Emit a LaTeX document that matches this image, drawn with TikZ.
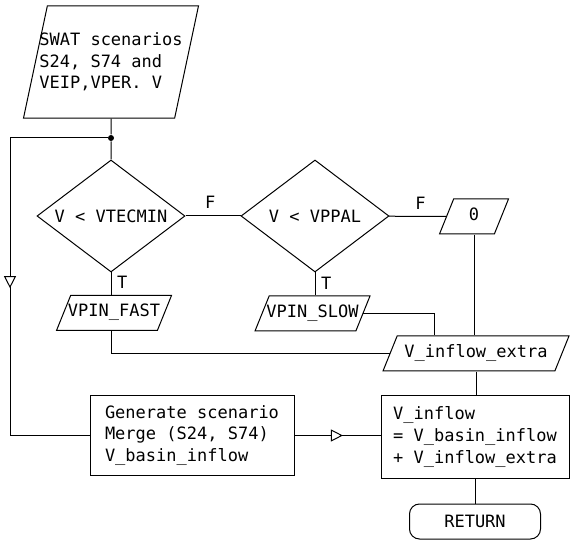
\documentclass[tikz,border=0pt]{standalone}
\usepackage{fontspec}
\setmonofont{DejaVu Sans Mono}
\usepackage{tikz}
\usetikzlibrary{arrows.meta, positioning, shapes.geometric, decorations.markings}

\begin{document}
\begin{tikzpicture}[x=1pt, y=-1pt, line width=1pt,
    box/.style={rectangle, draw, align=left, inner sep=0pt},
    decision/.style={diamond, draw, aspect=1.32, inner sep=0pt, minimum width=148pt, minimum height=112pt},
    data/.style={trapezium, draw, trapezium left angle=68, trapezium right angle=112, trapezium stretches body, text height=12pt, text depth=4pt, inner xsep=-3pt, inner ysep=9.5pt},
    terminal/.style={rectangle, draw, rounded corners=10pt, minimum width=131pt, minimum height=35pt},
    dot/.style={circle, fill, inner sep=0pt, minimum size=6pt},
    midtri/.style={postaction={decorate, decoration={markings, mark=at position #1 with {\arrow{Triangle[length=12pt, width=12pt, fill=white]}}}}}]
    \fontsize{17}{21.7}\selectfont\ttfamily
    \useasboundingbox (0,0) rectangle (571,540);
    % Nodes
    \node[trapezium, draw, trapezium left angle=78, trapezium right angle=102, trapezium stretches body, inner xsep=-8pt, inner ysep=26.8pt, align=left] (swat) at (111,62) {SWAT scenarios\\S24, S74 and\\VEIP,VPER. V};
    \node[dot] (junc) at (111,138) {};
    \node[decision] (tecmin) at (111,216) {V < VTECMIN};
    \node[decision] (ppal) at (315,216) {V < VPPAL};
    \node[data, minimum width=69pt] (zero) at (474,216.5) {0};
    \node[data, minimum width=115pt] (fast) at (114,313) {VPIN\_FAST};
    \node[data, minimum width=115pt] (slow) at (312.5,313.5) {VPIN\_SLOW};
    \node[data, minimum width=186pt] (extra) at (476,353.5) {V\_inflow\_extra};
    \node[box, minimum width=204pt, minimum height=80pt] (gen) at (192,435.5) {Generate scenario\\Merge (S24, S74)\\V\_basin\_inflow};
    \node[box, minimum width=188pt, minimum height=82pt] (vin) at (475,437) {V\_inflow\\= V\_basin\_inflow\\+ V\_inflow\_extra};
    \node[terminal] (ret) at (475,521.5) {RETURN};

    % Arrows
    \draw (swat.south) -- (junc) -- (tecmin);
    \draw[midtri=0.522] (junc) -- ++(-101,0) |- (gen.west);
    \draw (tecmin) -- node[above=1pt, pos=0.45] {F} (ppal);
    \draw (ppal) -- node[above=1pt, pos=0.55] {F} (zero);
    \draw (tecmin.south) -- node[right, pos=0.45] {T} (tecmin.south |- fast.north);
    \draw (ppal.south) -- node[right, pos=0.45] {T} (ppal.south |- slow.north);
    \draw (tecmin.south |- fast.south) |- (extra.west);
    \draw (slow.east) -| (extra.north -| 434,0);
    \draw (zero.south) -- (zero.south |- extra.north);
    \draw (extra.south) -- (extra.south |- vin.north);
    \draw[midtri=0.563] (gen.east) -- (gen.east -| vin.west);
    \draw (vin.south) -- (ret);

\end{tikzpicture}
\end{document}
